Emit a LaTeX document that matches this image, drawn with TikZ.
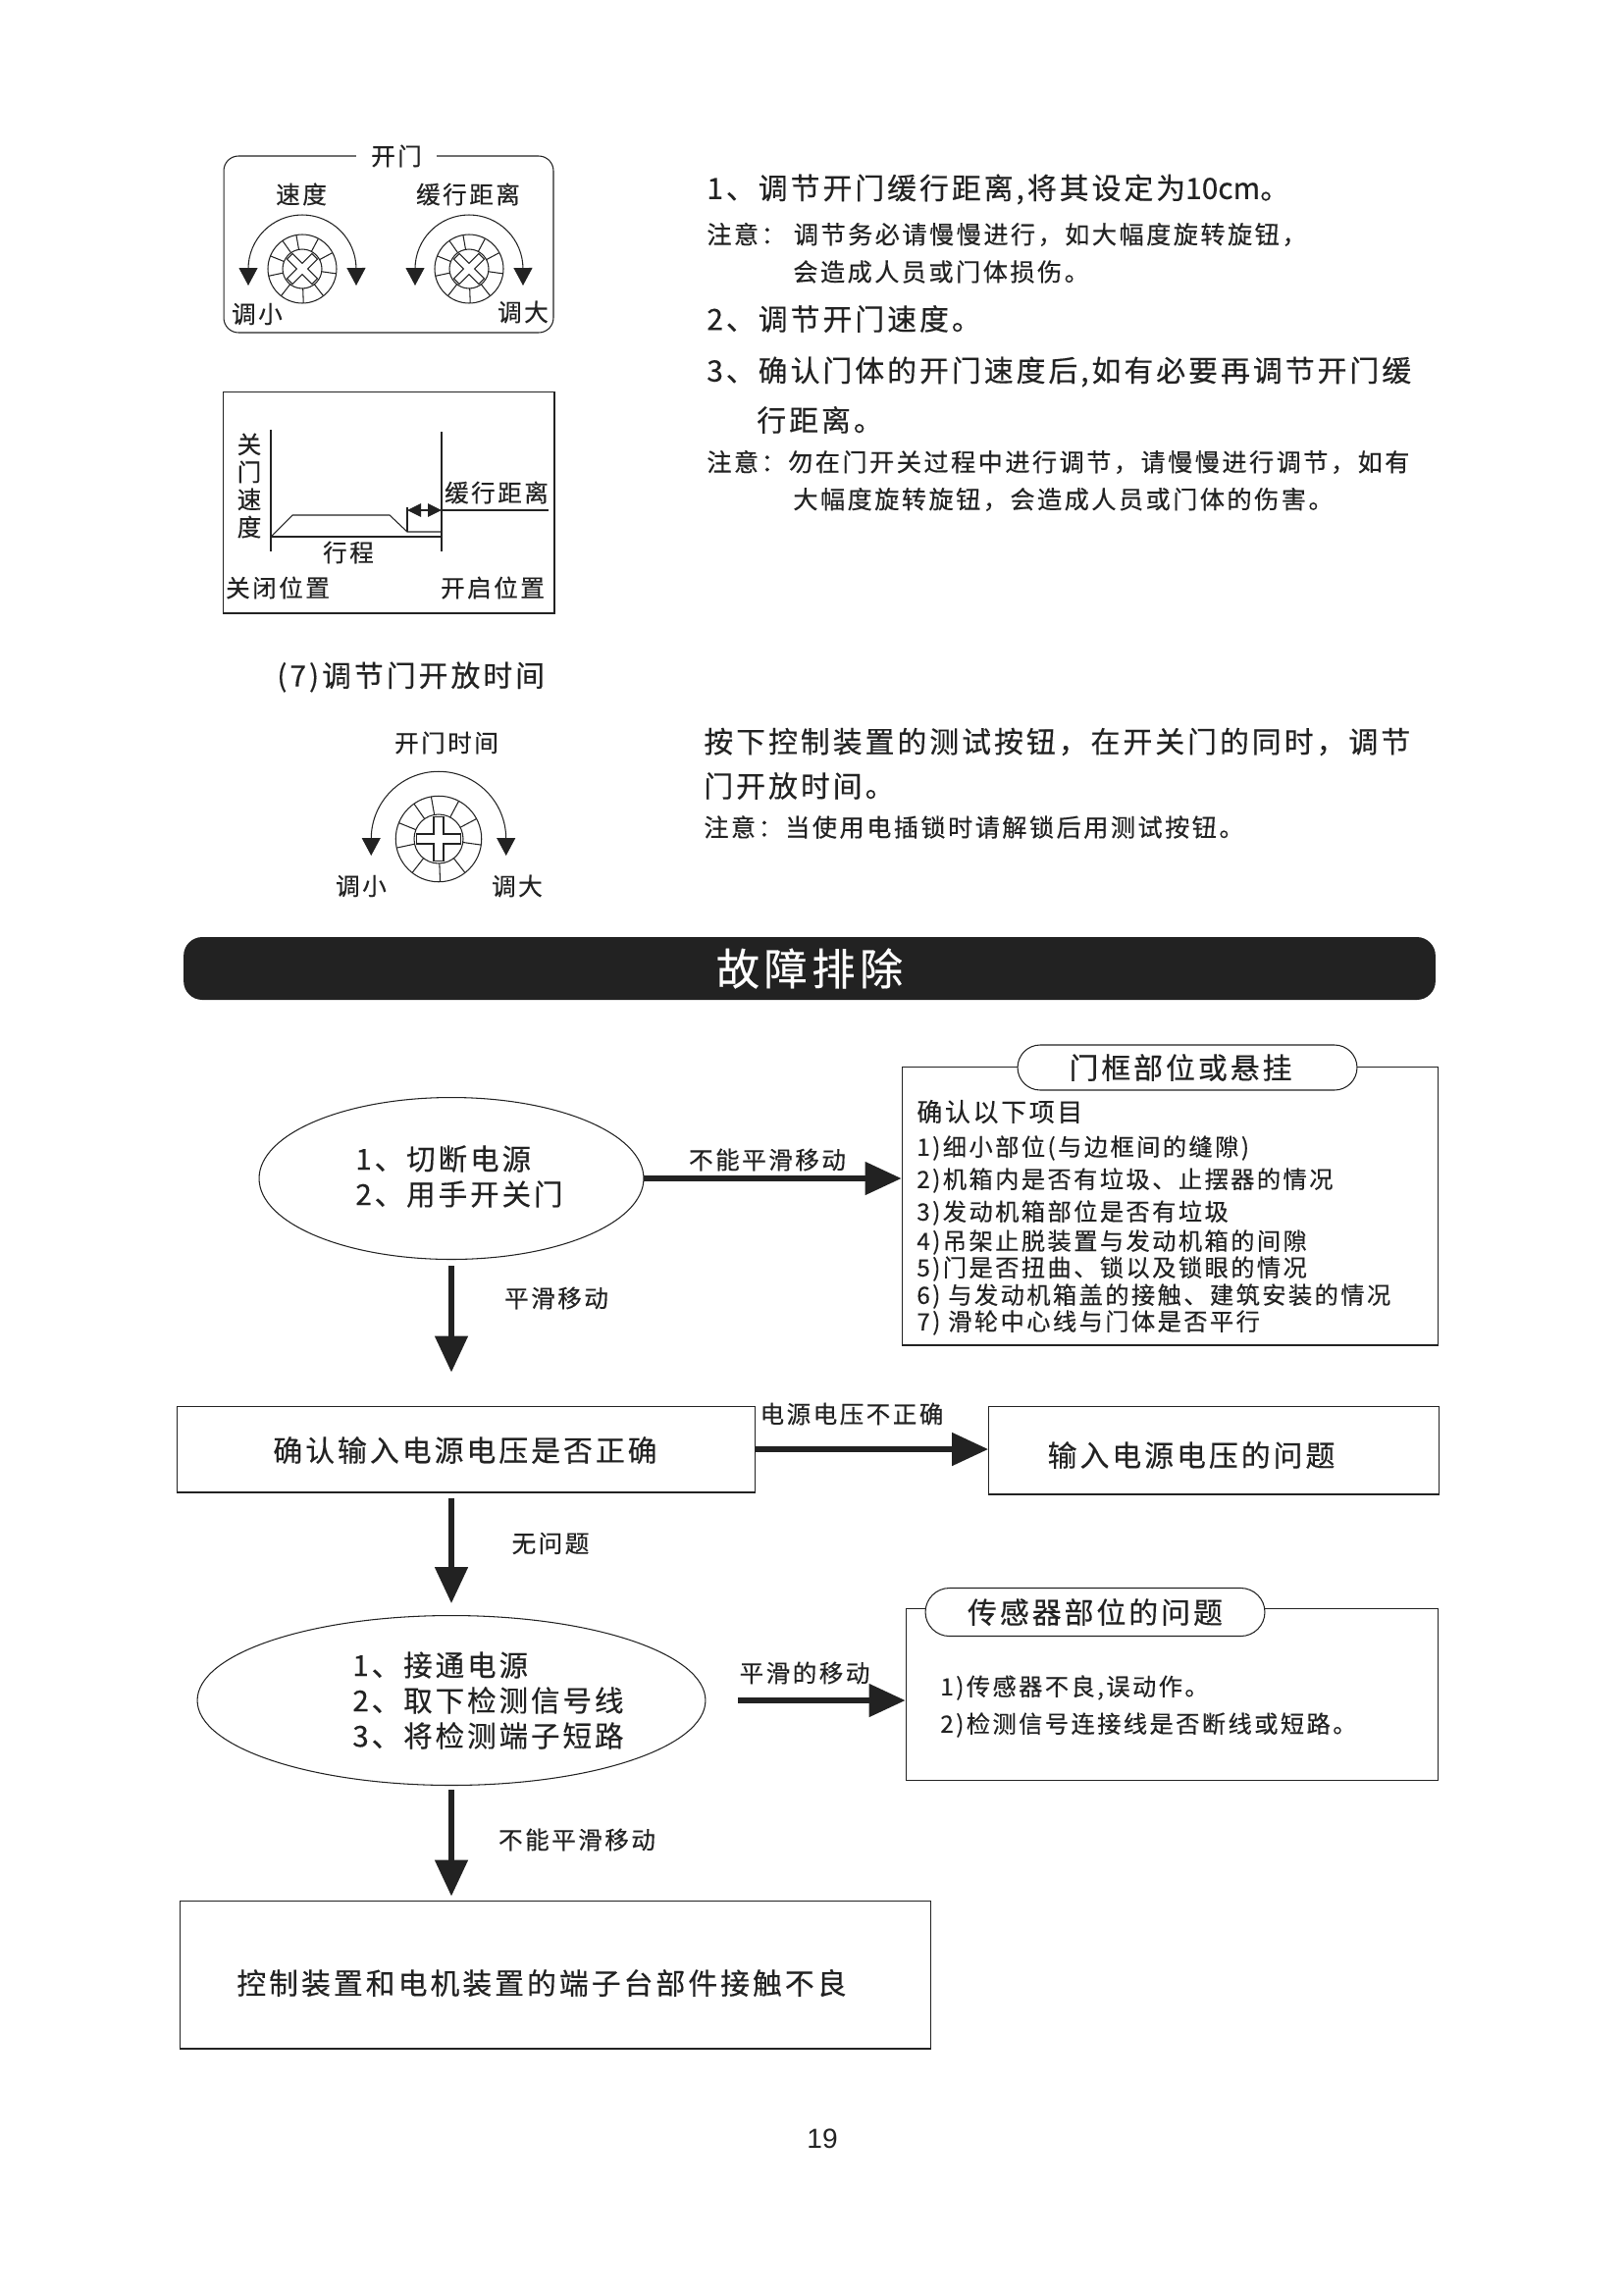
\documentclass[tikz,border=0pt]{standalone}
\usepackage{fontspec}
\setmainfont[LetterSpace=10,FakeBold=0.35]{Noto Sans CJK SC}
\newfontfamily\pagenumfont{Liberation Sans}
\usetikzlibrary{arrows.meta,shapes.geometric,shapes.misc}

\definecolor{inkline}{HTML}{222222}
\newcommand{\widecomma}{\char"FF0C\relax}
\newcommand{\widecolon}{\char"FF1A\relax}

\tikzset{
  thinline/.style={draw=inkline, line width=0.6pt},
  bodytext/.style={anchor=west, inner sep=0pt, text=inkline, font=\fontsize{17}{20}\selectfont},
  notetext/.style={anchor=west, inner sep=0pt, text=inkline, font=\fontsize{14.3}{18}\selectfont},
  dialtext/.style={inner sep=0pt, text=inkline, font=\fontsize{14}{16}\selectfont},
  flowtext/.style={inner sep=0pt, text=inkline, align=left, font=\fontsize{16.8}{20.5}\selectfont},
  flowlabel/.style={inner sep=0pt, text=inkline, font=\fontsize{14}{17}\selectfont},
  boxtext/.style={inner sep=0pt, text=inkline, font=\fontsize{17}{20}\selectfont},
  itemtext/.style={anchor=west, inner sep=0pt, text=inkline, font=\fontsize{13.8}{16}\selectfont},
  flowbox/.style={thinline, rectangle, inner sep=0pt},
  flowell/.style={thinline, ellipse, inner sep=0pt},
  titlepill/.style={thinline, fill=white, rounded rectangle, inner sep=0pt, text=inkline,
    font=\fontsize{17}{20}\selectfont},
  flowarrow/.style={draw=inkline, line width=2.9pt, -{Triangle[length=0.74cm,width=0.66cm]}},
  dialarrow/.style={thinline, {Triangle[length=0.36cm,width=0.38cm]}-{Triangle[length=0.36cm,width=0.38cm]}}
}

% x, y, scale, angle of the slot
\newcommand{\knobdial}[4]{%
  \begin{scope}[shift={(#1,#2)}, scale=#3]
    \pgfmathsetmacro\tipy{17/#3}
    \draw[dialarrow] (-55,\tipy) -- (-55,0) arc[start angle=180, end angle=0, radius=1.1cm] -- (55,\tipy);
    \draw[thinline] (0,0) circle (0.7cm);
    \draw[thinline] (0,0) circle (0.4cm);
    \foreach \spokeangle in {100,62,28,-8,-52,-88,-128,-168,158,125}
      \draw[thinline] (\spokeangle:0.4cm) -- (\spokeangle:0.7cm);
    \draw[thinline, rotate=#4] (-4,-18) -- (4,-18) -- (4,-4) -- (18,-4) -- (18,4) -- (4,4)
      -- (4,18) -- (-4,18) -- (-4,4) -- (-18,4) -- (-18,-4) -- (-4,-4) -- cycle;
  \end{scope}%
}

\begin{document}
\begin{tikzpicture}[x=0.02cm, y=-0.02cm]
  \useasboundingbox (0,0) rectangle (1654,2339);

  % ---- door opening panel ----
  \node[thinline, rectangle, rounded corners=0.3cm, minimum width=6.72cm, minimum height=3.6cm,
    inner sep=0pt] (openpanel) at (396,249) {};
  \node[dialtext, fill=white, minimum width=1.64cm, minimum height=0.5cm] (opentitle) at (404,159) {开门};
  \node[dialtext] (speedlabel) at (307,198) {速度};
  \node[dialtext] (bufferlabel) at (477,198) {缓行距离};
  \knobdial{308}{274}{1}{45}
  \knobdial{478}{274}{1}{45}
  \node[dialtext] (lesslabel) at (262,320) {调小};
  \node[dialtext] (morelabel) at (533,318) {调大};

  % ---- speed curve panel ----
  \node[thinline, rectangle, minimum width=6.76cm, minimum height=4.52cm, inner sep=0pt]
    (curvepanel) at (396,512) {};
  \draw[thinline] (276,438) -- (276,562);
  \draw[thinline] (450,440) -- (450,562);
  \draw[thinline] (276,547) -- (450,547);
  \draw[thinline] (276,547) -- (298,525) -- (397,525) -- (415,542) -- (450,542);
  \draw[thinline] (415,542) -- (415,517);
  \draw[thinline] (450,520) -- (559,520);
  \coordinate (gapleft) at (415,520);
  \coordinate (gapright) at (450,520);
  \draw[thinline, {Triangle[length=0.28cm,width=0.27cm]}-{Triangle[length=0.28cm,width=0.27cm]}] (gapleft) -- (gapright);
  \node[dialtext, align=center] (speedaxis) at (254,495) {关\\门\\速\\度};
  \node[dialtext] (gaplabel) at (506,502) {缓行距离};
  \node[dialtext] (travellabel) at (355,563) {行程};
  \node[dialtext] (closedlabel) at (283,599) {关闭位置};
  \node[dialtext] (openedlabel) at (502,599) {开启位置};

  % ---- instructions ----
  \node[bodytext] (stepone) at (720,193) {1、调节开门缓行距离,将其设定为{\addfontfeature{LetterSpace=0}10cm}。};
  \node[notetext] (noteone) at (720,239) {注意\widecolon\ 调节务必请慢慢进行\widecomma 如大幅度旋转旋钮\widecomma};
  \node[notetext] (noteonecont) at (808,277) {会造成人员或门体损伤。};
  \node[bodytext] (steptwo) at (720,325) {2、调节开门速度。};
  \node[bodytext] (stepthree) at (720,379) {3、确认门体的开门速度后,如有必要再调节开门缓};
  \node[bodytext] (stepthreecont) at (771,428) {行距离。};
  \node[notetext] (notetwo) at (720,471) {注意\widecolon 勿在门开关过程中进行调节\widecomma 请慢慢进行调节\widecomma 如有};
  \node[notetext] (notetwocont) at (808,509) {大幅度旋转旋钮\widecomma 会造成人员或门体的伤害。};

  % ---- open time ----
  \node[bodytext] (holdtitle) at (282,690) {(7)调节门开放时间};
  \node[dialtext] (holdlabel) at (455,757) {开门时间};
  \knobdial{447}{855}{1.25}{0}
  \node[dialtext] (holdless) at (368,903) {调小};
  \node[dialtext] (holdmore) at (527,903) {调大};
  \node[bodytext] (holdtext) at (717,756) {按下控制装置的测试按钮\widecomma 在开关门的同时\widecomma 调节};
  \node[bodytext] (holdtextcont) at (717,801) {门开放时间。};
  \node[notetext] (holdnote) at (717,843) {注意\widecolon 当使用电插锁时请解锁后用测试按钮。};

  % ---- section bar ----
  \node[rectangle, fill=inkline, rounded corners=0.38cm, minimum width=25.52cm, minimum height=1.28cm,
    inner sep=0pt, text=white, font=\fontsize{25.2}{28}\selectfont] (sectionbar) at (825,987) {故障排除};

  % ---- flow: first check ----
  \node[flowell, minimum width=7.84cm, minimum height=3.3cm] (powerell) at (460,1201) {};
  \node[flowtext, anchor=west] (powertext) at (362,1199) {1、切断电源\\2、用手开关门};
  \node[flowbox, minimum width=10.94cm, minimum height=5.68cm] (framebox) at (1192.5,1229) {};
  \node[titlepill, minimum width=6.92cm, minimum height=0.92cm] (framepill) at (1210,1088) {门框部位或悬挂\hspace*{0.28cm}};
  \node[itemtext, font=\fontsize{14.8}{18}\selectfont] (frameintro) at (934,1133) {确认以下项目};
  \foreach \itemid/\itemy/\itemstr in {
      a/1170/{1)细小部位(与边框间的缝隙)},
      b/1203/{2)机箱内是否有垃圾、止摆器的情况},
      c/1236/{3)发动机箱部位是否有垃圾},
      d/1266/{4)吊架止脱装置与发动机箱的间隙},
      e/1293/{5)门是否扭曲、锁以及锁眼的情况},
      f/1321/{6) 与发动机箱盖的接触、建筑安装的情况},
      g/1348/{7) 滑轮中心线与门体是否平行}}
    \node[itemtext] (frameitem\itemid) at (934,\itemy) {\itemstr};
  \draw[flowarrow] (powerell.east) -- (powerell.east -| framebox.west);
  \node[flowlabel] (rougha) at (782,1182) {不能平滑移动};

  % ---- flow: voltage ----
  \node[flowbox, minimum width=11.79cm, minimum height=1.76cm] (voltbox) at (475,1477) {};
  \node[boxtext] (volttext) at (474,1478) {确认输入电源电压是否正确};
  \node[flowbox, minimum width=9.18cm, minimum height=1.8cm] (supplybox) at (1237,1478) {};
  \node[boxtext] (supplytext) at (1214,1483) {输入电源电压的问题};
  \draw[flowarrow, shorten <=0.12cm, shorten >=0.68cm] (powerell.south) -- (powerell.south |- voltbox.north);
  \node[flowlabel] (smootha) at (567,1323) {平滑移动};
  \draw[flowarrow] (voltbox.east) -- (voltbox.east -| supplybox.west);
  \node[flowlabel] (badvolt) at (868,1441) {电源电压不正确};

  % ---- flow: sensor ----
  \node[flowell, minimum width=10.36cm, minimum height=3.46cm] (restoreell) at (460,1733) {};
  \node[flowtext, anchor=west] (restoretext) at (359,1733) {1、接通电源\\2、取下检测信号线\\3、将检测端子短路};
  \node[flowbox, minimum width=10.86cm, minimum height=3.5cm] (sensorbox) at (1194.5,1727) {};
  \node[titlepill, minimum width=6.92cm, minimum height=0.98cm] (sensorpill) at (1116,1643) {传感器部位的问题};
  \node[itemtext] (sensorone) at (958,1720) {1)传感器不良,误动作。};
  \node[itemtext] (sensortwo) at (958,1758) {2)检测信号连接线是否断线或短路。};
  \draw[flowarrow, shorten <=0.1cm, shorten >=0.24cm] (voltbox.south -| restoreell.north) -- (restoreell.north);
  \node[flowlabel] (fineok) at (561,1573) {无问题};
  \draw[flowarrow, shorten <=0.66cm] (restoreell.east) -- (restoreell.east -| sensorbox.west);
  \node[flowlabel] (smoothb) at (820,1705) {平滑的移动};

  % ---- flow: terminals ----
  \node[flowbox, minimum width=15.32cm, minimum height=3.02cm] (terminalbox) at (566,2012.5) {};
  \node[boxtext] (terminaltext) at (552,2021) {控制装置和电机装置的端子台部件接触不良};
  \draw[flowarrow, shorten <=0.08cm, shorten >=0.08cm] (restoreell.south) -- (restoreell.south |- terminalbox.north);
  \node[flowlabel] (roughb) at (588,1875) {不能平滑移动};

  % ---- page number ----
  \node[inner sep=0pt, text=inkline, font=\pagenumfont\fontsize{16}{19}\selectfont] (pagenum) at (838,2180) {19};

\end{tikzpicture}
\end{document}
